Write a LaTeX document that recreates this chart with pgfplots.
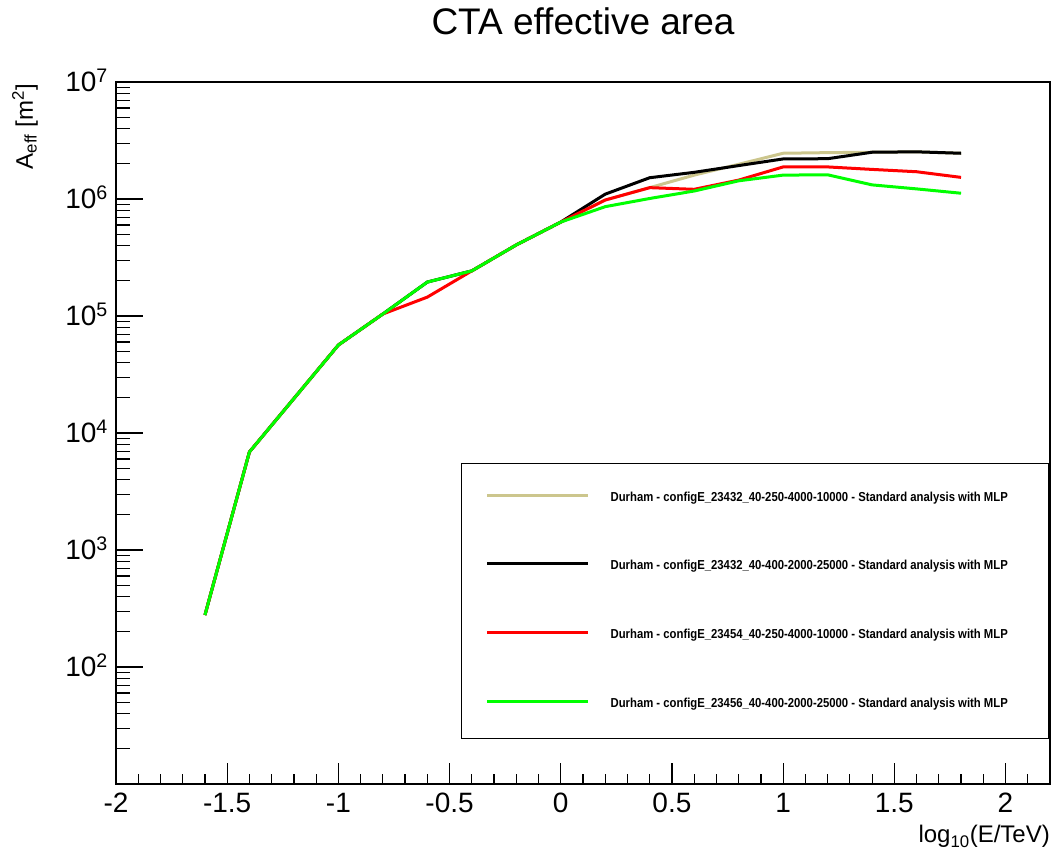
\documentclass[border=0pt]{standalone}
\usepackage{fontspec}
\setmainfont{Liberation Sans}
\usepackage{graphicx}
\usepackage{pgfplots}
\pgfplotsset{compat=1.18}

\definecolor{rootTan}{RGB}{204,198,141}
\definecolor{rootGreen}{RGB}{0,255,0}
\newcommand\legtext[1]{\scalebox{0.87}[1]{\bfseries\fontsize{13}{13}\selectfont #1}\hspace*{17pt}}

\begin{document}
\begin{tikzpicture}
\useasboundingbox (-116pt,-70pt) rectangle (941pt,784pt);
\begin{axis}[
    at={(0pt,0pt)}, anchor=south west,
    scale only axis, width=934pt, height=702pt,
    ymode=log,
    xmin=-2, xmax=2.2, ymin=10, ymax=1e7,
    axis line style={line width=1.5pt},
    tick pos=left, tick align=inside,
    tick style={black, line width=1.2pt},
    major tick length=27pt, minor tick length=14pt,
    xtick style={/pgfplots/major tick length=21pt, /pgfplots/minor tick length=10pt},
    xtick={-2,-1.5,-1,-0.5,0,0.5,1,1.5,2},
    xticklabels={-2,-1.5,-1,-0.5,0,0.5,1,1.5,2},
    minor xtick={-1.9,-1.8,-1.7,-1.6,-1.4,-1.3,-1.2,-1.1,-0.9,-0.8,-0.7,-0.6,-0.4,-0.3,-0.2,-0.1,
                 0.1,0.2,0.3,0.4,0.6,0.7,0.8,0.9,1.1,1.2,1.3,1.4,1.6,1.7,1.8,1.9,2.1},
    ytick={100,1000,10000,100000,1000000,10000000},
    yticklabels={10\textsuperscript{2},10\textsuperscript{3},10\textsuperscript{4},10\textsuperscript{5},10\textsuperscript{6},10\textsuperscript{7}},
    minor ytick={20,30,40,50,60,70,80,90,
                 200,300,400,500,600,700,800,900,
                 2000,3000,4000,5000,6000,7000,8000,9000,
                 2e4,3e4,4e4,5e4,6e4,7e4,8e4,9e4,
                 2e5,3e5,4e5,5e5,6e5,7e5,8e5,9e5,
                 2e6,3e6,4e6,5e6,6e6,7e6,8e6,9e6},
    xticklabel style={font=\fontsize{28}{28}\selectfont, inner sep=0pt, yshift=-9pt},
    yticklabel style={font=\fontsize{28}{28}\selectfont, inner sep=0pt, anchor=base east, xshift=-8pt, yshift=-10pt},
    title={CTA effective area},
    title style={font=\fontsize{37}{37}\selectfont, at={(rel axis cs:0.5,1)}, anchor=base, yshift=41pt},
    xlabel={log\textsubscript{\raisebox{-2pt}{10}}(E/TeV)},
    xlabel style={font=\fontsize{24}{24}\selectfont, at={(axis description cs:1,0)}, anchor=base east, inner sep=0pt, yshift=-58pt},
    ylabel={A\textsubscript{eff} [m\textsuperscript{2}]},
    ylabel style={font=\fontsize{24}{24}\selectfont, at={(axis description cs:-0.0889,0.997)}, anchor=base east, inner sep=0pt},
    every axis plot/.append style={line width=3pt, line join=round},
    legend cell align=left,
    legend image code/.code={\draw[#1, line width=3pt] (0pt,3pt) -- (101pt,3pt); \path (0pt,-1pt);},
    legend style={at={(0.3694,0.4573)}, anchor=north west, draw=black, line width=1.2pt, fill=white,
        inner xsep=24pt, inner ysep=28.5pt, row sep=56.7pt, column sep=21pt,
        nodes={inner sep=0pt, text height=9pt, text depth=3pt}},
]
% Durham - configE_23432_40-250-4000-10000
\addplot[rootTan] coordinates {
 (-1.6,278) (-1.4,6890) (-1.2,1.97e4) (-1.0,5.65e4) (-0.8,1.04e5) (-0.6,1.95e5)
 (-0.4,2.43e5) (-0.2,4.05e5) (0.0,6.35e5) (0.2,9.8e5) (0.4,1.25e6) (0.6,1.60e6)
 (0.8,1.98e6) (1.0,2.46e6) (1.2,2.49e6) (1.4,2.51e6) (1.6,2.53e6) (1.8,2.46e6)};
\addlegendentry{\legtext{Durham - configE\_23432\_40-250-4000-10000 - Standard analysis with MLP}}
% Durham - configE_23432_40-400-2000-25000
\addplot[black] coordinates {
 (-1.6,278) (-1.4,6890) (-1.2,1.97e4) (-1.0,5.65e4) (-0.8,1.04e5) (-0.6,1.95e5)
 (-0.4,2.43e5) (-0.2,4.05e5) (0.0,6.35e5) (0.2,1.10e6) (0.4,1.52e6) (0.6,1.69e6)
 (0.8,1.93e6) (1.0,2.20e6) (1.2,2.21e6) (1.4,2.51e6) (1.6,2.53e6) (1.8,2.46e6)};
\addlegendentry{\legtext{Durham - configE\_23432\_40-400-2000-25000 - Standard analysis with MLP}}
% Durham - configE_23454_40-250-4000-10000
\addplot[red] coordinates {
 (-1.6,278) (-1.4,6890) (-1.2,1.97e4) (-1.0,5.65e4) (-0.8,1.04e5) (-0.6,1.45e5)
 (-0.4,2.43e5) (-0.2,4.05e5) (0.0,6.35e5) (0.2,9.8e5) (0.4,1.25e6) (0.6,1.21e6)
 (0.8,1.45e6) (1.0,1.88e6) (1.2,1.88e6) (1.4,1.79e6) (1.6,1.71e6) (1.8,1.53e6)};
\addlegendentry{\legtext{Durham - configE\_23454\_40-250-4000-10000 - Standard analysis with MLP}}
% Durham - configE_23456_40-400-2000-25000
\addplot[rootGreen] coordinates {
 (-1.6,278) (-1.4,6890) (-1.2,1.97e4) (-1.0,5.65e4) (-0.8,1.04e5) (-0.6,1.95e5)
 (-0.4,2.43e5) (-0.2,4.05e5) (0.0,6.35e5) (0.2,8.6e5) (0.4,1.01e6) (0.6,1.17e6)
 (0.8,1.43e6) (1.0,1.60e6) (1.2,1.61e6) (1.4,1.32e6) (1.6,1.22e6) (1.8,1.12e6)};
\addlegendentry{\legtext{Durham - configE\_23456\_40-400-2000-25000 - Standard analysis with MLP}}
\end{axis}
\end{tikzpicture}
\end{document}
